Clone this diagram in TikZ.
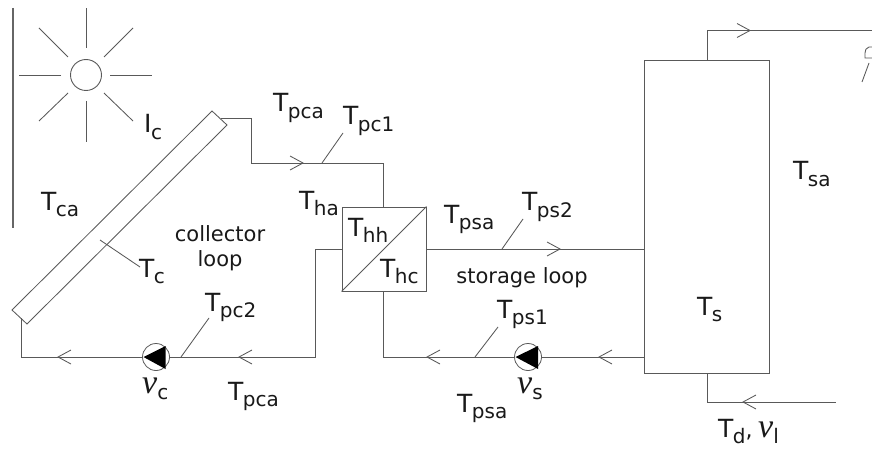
\documentclass[tikz,border=0pt]{standalone}
\usepackage{fontspec}
\setmainfont{DejaVu Sans}
\newfontfamily\vfont{Liberation Serif}[Ligatures=TeX]
\newcommand{\TT}[1]{{\fontsize{25}{25}\selectfont T\kern-0.5pt\raisebox{-6.5pt}{\fontsize{20}{20}\selectfont #1}}}
\newcommand{\VV}[1]{{\fontsize{34}{34}\vfont\itshape v\raisebox{-6pt}{\fontsize{20}{20}\setmainfont{DejaVu Sans}\selectfont\normalfont #1}}}
\tikzset{
  x=1pt,y=-1pt,
  pipe/.style={draw=black!65,line width=0.95pt},
  thin line/.style={draw=black!65,line width=0.85pt},
  lbl/.style={inner sep=0pt,anchor=base west,text=black!90},
  chev/.style={draw=black!65,line width=0.85pt},
  pumpc/.style={circle,draw=black!65,line width=0.8pt,minimum size=27pt,inner sep=0pt},
  txt/.style={inner sep=0pt,font=\fontsize{21}{25}\selectfont,align=center,text=black!90}
}
\newcommand{\chevR}[2]{\draw[chev] (#1-13,#2-7) -- (#1,#2) -- (#1-13,#2+7);}
\newcommand{\chevL}[2]{\draw[chev] (#1+13,#2-7) -- (#1,#2) -- (#1+13,#2+7);}
\begin{document}
\begin{tikzpicture}
\useasboundingbox (0,0) rectangle (872,449);
\fill[white] (0,0) rectangle (872,449);
% wall
\coordinate (w1) at (13,8); \coordinate (w2) at (13,228);
\draw[draw=black!60,line width=1.4pt] (w1) -- (w2);
% sun
\node[circle,draw=black!65,line width=0.9pt,minimum size=31pt,inner sep=0pt] (sun) at (86,75) {};
\foreach \a/\b/\c/\d in {86/48/86/8, 86/101/86/142, 61/75/19/75, 110/75/152/75, 68/57/39/28, 104/57/133/28, 68/93/39/121, 104/93/133/121}
  \draw[thin line] (\a,\b) -- (\c,\d);
% collector
\coordinate (ca) at (212,111); \coordinate (cb) at (227,125); \coordinate (cc) at (27,324); \coordinate (cd) at (12,310);
\draw[thin line] (ca) -- (cb) -- (cc) -- (cd) -- cycle;
% heat exchanger
\node[draw=black!65,line width=0.95pt,minimum size=84pt,inner sep=0pt] (hx) at (384,249) {};
\draw[thin line] (hx.south west) -- (hx.north east);
% tank
\node[draw=black!65,line width=0.95pt,minimum width=125pt,minimum height=313pt,inner sep=0pt] (tank) at (706.5,216.5) {};
% pumps
\node[pumpc] (pc) at (156,357) {};
\node[pumpc] (ps) at (528,357) {};
\fill[black] (143.5,357) -- (165.5,346) -- (165.5,369) -- cycle;
\fill[black] (515.5,357) -- (538,346) -- (538,369) -- cycle;
% pipes
\coordinate (p1) at (221,118); \coordinate (p2) at (251,118); \coordinate (p3) at (251,163); \coordinate (p4) at (383,163);
\draw[pipe] (p1) -- (p2) -- (p3) -- (p4) -- (p4 |- hx.north);
\coordinate (q1) at (21,318); \coordinate (q2) at (21,357);
\draw[pipe] (q1) -- (q2) -- (pc.west);
\coordinate (r1) at (315,249); \coordinate (r2) at (315,357);
\draw[pipe] (hx.west) -- (r1) -- (r2) -- (pc.east);
\draw[pipe] (hx.east) -- (hx.east -| tank.west);
\coordinate (s1) at (383,357);
\draw[pipe] (s1 |- hx.south) -- (s1) -- (ps.west);
\draw[pipe] (ps.east) -- (ps.east -| tank.west);
\coordinate (u1) at (707,30.5); \coordinate (u2) at (872,30.5);
\draw[pipe] (u1 |- tank.north) -- (u1) -- (u2);
\coordinate (d1) at (707,402); \coordinate (d2) at (836,402);
\draw[pipe] (d1 |- tank.south) -- (d1) -- (d2);
% chevrons
\chevR{303}{163}
\chevR{560}{249}
\chevR{750}{30.5}
\chevL{58}{357}
\chevL{239}{357}
\chevL{427}{357}
\chevL{599}{357}
\chevL{743}{402}
% shower
\draw[thin line] (872,47) -- (869,47) .. controls (866,48) and (865,50) .. (865,53) -- (865,58) -- (872,58);
\draw[thin line] (869,63) -- (862,82);
% leader lines
\draw[thin line] (322,163) -- (343,133);
\draw[thin line] (502,249) -- (523,219);
\draw[thin line] (475,357) -- (498,327);
\draw[thin line] (181,357) -- (209,318);
\draw[thin line] (100,240) -- (140,267);
% labels
\node[lbl] at (144,133) {\fontsize{25}{25}\selectfont I\kern-0.5pt\raisebox{-6.5pt}{\fontsize{20}{20}\selectfont c}};
\node[lbl] at (273,112) {\TT{pca}};
\node[lbl] at (343,125) {\TT{pc1}};
\node[lbl] at (41,210) {\TT{ca}};
\node[lbl] at (299,209) {\TT{ha}};
\node[lbl] at (348,236) {\TT{hh}};
\node[lbl] at (380,277) {\TT{hc}};
\node[lbl] at (444,223) {\TT{psa}};
\node[lbl] at (522,211) {\TT{ps2}};
\node[lbl] at (139,277) {\TT{c}};
\node[lbl] at (205,311) {\TT{pc2}};
\node[lbl] at (228,400) {\TT{pca}};
\node[lbl] at (497,318) {\TT{ps1}};
\node[lbl] at (457,412) {\TT{psa}};
\node[lbl] at (697,315) {\TT{s}};
\node[lbl] at (793,180) {\TT{sa}};
\node[lbl] at (718,437) {\TT{d}\fontsize{22}{22}\selectfont,};
\node[lbl] at (758,437) {\VV{l}};
\node[lbl] at (142,393) {\VV{c}};
\node[lbl] at (517,393) {\VV{s}};
\node[txt] at (220,248) {collector\\loop};
\node[txt,anchor=base] at (522,283) {storage loop};
\end{tikzpicture}
\end{document}
